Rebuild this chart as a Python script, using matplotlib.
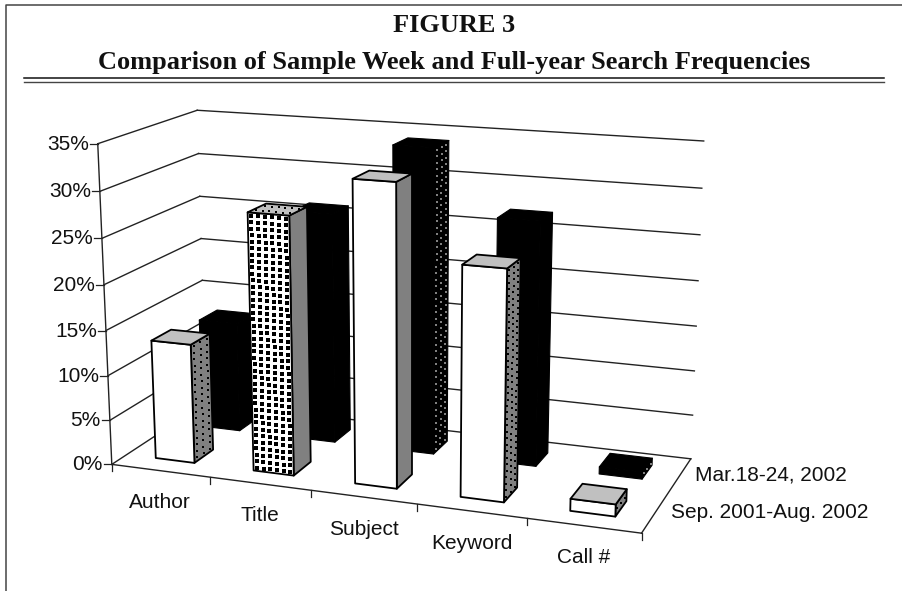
import numpy as np
import matplotlib
matplotlib.use("Agg")
import matplotlib.pyplot as plt
from matplotlib.patches import Polygon

W, H = 902, 591

categories = ["Author", "Title", "Subject", "Keyword", "Call #"]
series_names = ["Sep. 2001-Aug. 2002", "Mar.18-24, 2002"]
year_values = [13.3, 28.2, 32.5, 24.6, 1.3]
week_values = [12.6, 26.0, 34.0, 27.0, 0.8]
y_ticks = [0, 5, 10, 15, 20, 25, 30, 35]

# face styles per bar: (front dots, top dots, side colour, side dots)
year_styles = [
    (False, False, "#808080", True),
    (True, True, "#808080", False),
    (False, False, "#808080", False),
    (False, False, "#808080", True),
    (False, False, "#808080", True),
]

# camera fitted from the corners of the chart box: (cat, depth, value) -> (px, px)
box_3d = [(0, 0, 0), (0, 0, 35), (0, 2, 0), (0, 2, 35), (5, 2, 0), (5, 2, 35), (5, 0, 0)]
box_px = [(111.7, 464), (97.7, 144), (206, 403), (197.3, 110),
          (690.7, 458.7), (703.7, 141), (641.7, 533.3)]

rows = []
rhs = []
for (a, b, c), (u, v) in zip(box_3d, box_px):
    rows.append([a, b, c, 1, 0, 0, 0, 0, -u * a, -u * b, -u * c])
    rows.append([0, 0, 0, 0, a, b, c, 1, -v * a, -v * b, -v * c])
    rhs += [u, v]
cam = np.linalg.lstsq(np.array(rows, float), np.array(rhs, float), rcond=None)[0]
cam = np.append(cam, 1).reshape(3, 4)


def project(cat, depth, val):
    p = cam @ np.array([cat, depth, val, 1.0])
    return p[0] / p[2], p[1] / p[2]


fig = plt.figure(figsize=(W / 100, H / 100), dpi=100)
ax = fig.add_axes([0, 0, 1, 1])
ax.set_xlim(0, W)
ax.set_ylim(H, 0)
ax.axis("off")

# page frame and title
ax.plot([5.5, 5.5, W], [H, 5, 5], color="#444444", lw=1.1)
ax.plot([24, 884], [77.5, 77.5], color="#111111", lw=1.1)
ax.plot([24, 884], [81.7, 81.7], color="#444444", lw=1.0)
ax.text(454, 26, "FIGURE 3", family="Liberation Serif", weight="bold",
        fontsize=19, ha="center", va="center", color="#111111")
ax.text(454, 62, "Comparison of Sample Week and Full-year Search Frequencies",
        family="Liberation Serif", weight="bold", fontsize=19,
        ha="center", va="center", color="#111111")


def line3(a, b, lw=1.0, color="#222222"):
    pa = project(*a)
    pb = project(*b)
    ax.plot([pa[0], pb[0]], [pa[1], pb[1]], color=color, lw=lw, zorder=1)


# walls, floor, axis
for t in y_ticks:
    line3((0, 0, t), (0, 2, t))
    line3((0, 2, t), (5, 2, t))
    x, y = project(0, 0, t)
    ax.plot([x - 8, x], [y, y], color="#222222", lw=0.9, zorder=1)
    ax.text(x - 9, y + 0.5, f"{t}%", family="Liberation Sans", fontsize=15,
            ha="right", va="center", color="#111111")
line3((0, 0, 0), (0, 0, 35))
line3((0, 0, 0), (5, 0, 0))
line3((5, 0, 0), (5, 2, 0))
for i in range(6):
    x, y = project(i, 0, 0)
    ax.plot([x, x], [y, y + 7], color="#222222", lw=0.9, zorder=1)
for i, name in enumerate(categories):
    x, y = project(i + 0.5, 0, 0)
    ax.text(x, y + 32, name, family="Liberation Sans", fontsize=15,
            ha="center", va="center", color="#111111")
for i, name in enumerate(series_names):
    x, y = project(5, i + 0.5, 0)
    ax.text(x + 16, y - 1, name, family="Liberation Sans", fontsize=15,
            ha="left", va="center", color="#111111")


def add_dots(corners, nu, nv, color, size, z):
    # small squares on a regular grid across a four-cornered face
    c = np.array(corners)
    us = (np.arange(nu) + 0.5) / nu
    vs = (np.arange(nv) + 0.5) / nv
    xs, ys = [], []
    for u in us:
        for v in vs:
            top = c[0] + (c[1] - c[0]) * u
            bottom = c[3] + (c[2] - c[3]) * u
            xs.append(top[0] + (bottom[0] - top[0]) * v)
            ys.append(top[1] + (bottom[1] - top[1]) * v)
    ax.scatter(xs, ys, marker="s", s=size, color=color, linewidths=0, zorder=z)


def draw_bar(i, row, val, colors, edge, lw, dots, z):
    x0, x1 = i + 0.3, i + 0.7
    d0, d1 = row + 0.3, row + 0.7
    front = [project(x0, d0, val), project(x1, d0, val), project(x1, d0, 0), project(x0, d0, 0)]
    side = [project(x1, d0, val), project(x1, d1, val), project(x1, d1, 0), project(x1, d0, 0)]
    top = [project(x0, d1, val), project(x1, d1, val), project(x1, d0, val), project(x0, d0, val)]
    for pts, col in zip((side, front, top), (colors[2], colors[0], colors[1])):
        ax.add_patch(Polygon(pts, closed=True, facecolor=col, edgecolor=edge, lw=lw,
                             joinstyle="round", zorder=z))
    front_dots, top_dots, side_dots, dot_col = dots
    height = abs(front[3][1] - front[0][1])
    if front_dots:
        add_dots(front, 6, max(1, int(height / 6.4)), dot_col, 4.9, z + 0.1)
    if top_dots:
        add_dots(top, 6, 2, dot_col, 3.2, z + 0.1)
    if side_dots:
        add_dots(side, 3, max(1, int(height / 6.4)), dot_col, 4.4, z + 0.1)


# back row first, then the front row
for i, val in enumerate(week_values):
    side_dots = categories[i] in ("Subject", "Call #")
    draw_bar(i, 1, val, ("black", "black", "black"), "black", 0.8,
             (False, False, side_dots, "#808080"), 2 + i * 0.2)
for i, val in enumerate(year_values):
    fd, td, side_col, sd = year_styles[i]
    draw_bar(i, 0, val, ("white", "#c0c0c0", side_col), "black", 1.3,
             (fd, td, sd, "black"), 4 + i * 0.2)

fig.savefig("out.png", dpi=100)
